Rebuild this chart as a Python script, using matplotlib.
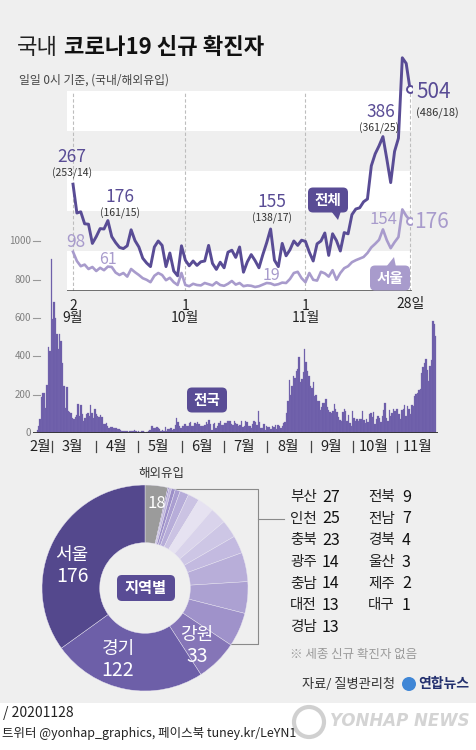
import numpy as np
import matplotlib
matplotlib.use('Agg')
import matplotlib.pyplot as plt
from matplotlib.patches import FancyBboxPatch, Polygon, Rectangle, Circle

plt.rcParams['font.family'] = ['Noto Sans CJK KR', 'DejaVu Sans']

W, H = 476, 750

# 일일 신규 확진자 (0시 기준), 2020-02-18 ~ 2020-11-28
feb = [1, 15, 34, 75, 190, 210, 207, 130, 253, 449, 427, 909]
mar = [595, 686, 600, 516, 438, 518, 483, 367, 248, 131, 242, 114, 110, 107, 76, 74,
       84, 93, 152, 87, 147, 98, 64, 76, 100, 104, 91, 146, 105, 78, 125]
apr = [101, 89, 86, 94, 81, 47, 47, 53, 39, 27, 30, 32, 25, 27, 27, 22, 22, 18, 8, 13,
       9, 11, 8, 6, 10, 10, 10, 14, 9, 4]
may = [9, 6, 13, 8, 3, 2, 4, 12, 18, 34, 35, 27, 26, 29, 27, 19, 13, 15, 13, 32, 12,
       20, 23, 25, 16, 19, 40, 79, 58, 39, 27]
jun = [35, 38, 49, 39, 39, 51, 57, 38, 38, 50, 45, 56, 49, 34, 37, 34, 43, 59, 49, 67,
       48, 17, 46, 51, 28, 39, 51, 62, 42, 43]
jul = [51, 54, 63, 63, 61, 48, 44, 63, 50, 45, 35, 44, 62, 33, 39, 61, 60, 39, 34, 26,
       45, 63, 59, 41, 113, 58, 25, 28, 48, 18, 36]
aug = [31, 30, 23, 34, 33, 43, 20, 43, 36, 28, 34, 54, 56, 103, 166, 279, 197, 246, 297,
       288, 324, 332, 397, 266, 280, 320, 441, 371, 323, 299, 248]
sep = [235, 267, 195, 198, 168, 167, 119, 136, 156, 155, 176, 136, 121, 109, 106, 113,
       153, 126, 110, 82, 70, 61, 110, 125, 114, 61, 95, 50, 38, 113]
octo = [77, 63, 75, 64, 73, 75, 114, 69, 54, 72, 58, 97, 102, 84, 110, 47, 73, 91, 76,
        58, 91, 121, 155, 77, 61, 119, 88, 103, 125, 114, 127]
nov = [124, 97, 75, 118, 125, 145, 89, 143, 126, 100, 146, 143, 191, 205, 208, 223, 230,
       313, 343, 363, 386, 330, 271, 349, 382, 583, 569, 504]
daily = feb + mar + apr + may + jun + jul + aug + sep + octo + nov
month_names = ['2월', '3월', '4월', '5월', '6월', '7월', '8월', '9월', '10월', '11월']
month_len = [len(feb), len(mar), len(apr), len(may), len(jun), len(jul), len(aug), len(sep), len(octo)]

# 9/2 ~ 11/28 전체 / 서울
total = sep[1:] + octo + nov
seoul = [98, 75, 62, 66, 55, 60, 50, 58, 52, 61, 60, 46, 40, 45, 36, 55, 47, 40, 32, 28,
         22, 38, 45, 40, 27, 33, 22, 15, 45,
         15, 12, 18, 15, 14, 20, 17, 14, 22, 15, 13, 18, 25, 16, 20, 12, 14, 13, 10, 12,
         16, 20, 19, 15, 17, 21, 20, 30, 45, 48, 32,
         22, 45, 28, 26, 48, 44, 36, 52, 28, 45, 57, 62, 72, 77, 81, 85, 95, 109, 118, 128,
         154, 127, 107, 122, 135, 204, 188, 176]
line_ticks = [0, 29, 60, 87]
line_tick_labels = ['2\n9월', '1\n10월', '1\n11월', '28일']

# 지역별
left_names = ['부산', '인천', '충북', '광주', '충남', '대전', '경남']
left_vals = [27, 25, 23, 14, 14, 13, 13]
right_names = ['전북', '전남', '경북', '울산', '제주', '대구']
right_vals = [9, 7, 4, 3, 2, 1]
big_names = ['강원', '경기', '서울']
big_vals = [33, 122, 176]
abroad = 18

DARK = '#594c95'
LIGHT = '#a89bcc'
BG = '#efefef'


def box(x0, y0, x1, y1):
    return [x0 / W, 1 - y1 / H, (x1 - x0) / W, (y1 - y0) / H]


fig = plt.figure(figsize=(W / 100, H / 100), dpi=100, facecolor='white')

bg = fig.add_axes([0, 0, 1, 1], zorder=0)
bg.set_xlim(0, W); bg.set_ylim(H, 0); bg.axis('off')
top = fig.add_axes([0, 0, 1, 1], zorder=10)
top.set_xlim(0, W); top.set_ylim(H, 0); top.axis('off'); top.patch.set_alpha(0)

bg.add_patch(Rectangle((0, 0), W, 703, color=BG, lw=0))

# 제목
top.text(17, 48, '국내', fontsize=16, va='center', color='#222')
top.text(64, 48, '코로나19 신규 확진자', fontsize=16, va='center', fontweight='bold', color='#111')
top.text(19, 80, '일일 0시 기준, (국내/해외유입)', fontsize=8.5, va='center', color='#444')

# ---- 막대 (전국)
ax_bar = fig.add_axes(box(33, 230, 438, 433), zorder=2)
ax_bar.patch.set_alpha(0)
x = np.arange(len(daily))
ax_bar.bar(x, daily, width=1.0, color='#6c5ca8', edgecolor='#7a6bb2', lw=0.2)
ax_bar.set_xlim(-2.0, 285.6)
ax_bar.set_ylim(0, 1060)
ax_bar.axis('off')
ax_bar.axhline(0, color='#333', lw=1.3)
ytr = ax_bar.get_yaxis_transform()
for v in range(0, 1001, 200):
    ax_bar.text(-0.005, v, str(v), transform=ytr, ha='right', va='center',
                fontsize=7, color='#808080', clip_on=False)
    if v > 0:
        ax_bar.plot([0, 0.017], [v, v], transform=ytr, color='#999', lw=0.8, clip_on=False)
starts = np.cumsum(month_len)
centers = [3] + [s + 14 for s in starts]
for c, name in zip(centers, month_names):
    ax_bar.text(c, -73, name, ha='center', va='center', fontsize=10.5, color='#222', clip_on=False)
for s in starts:
    ax_bar.plot([s - 0.5, s - 0.5], [-42, -98], color='#444', lw=0.9, clip_on=False)

# ---- 선 (전체/서울)
ax_line = fig.add_axes(box(67, 50, 412, 291), zorder=3)
ax_line.patch.set_alpha(0)
for lo, hi in [(0, 100), (200, 300), (400, 500)]:
    ax_line.axhspan(lo, hi, color='white', lw=0, zorder=0)
for d in line_ticks:
    ax_line.axvline(d, ymin=0, ymax=500 / 602.5, color='#bdbdbd', lw=0.8, ls=(0, (3, 2)), zorder=1)
ax_line.axhline(0, color='#555', lw=1.2, zorder=2)
days = np.arange(len(total))
ax_line.plot(days, seoul, color=LIGHT, lw=1.9, zorder=3, solid_joinstyle='round')
ax_line.plot(days, total, color=DARK, lw=2.1, zorder=4, solid_joinstyle='round')
ax_line.plot(days[-1], seoul[-1], 'o', ms=5, mfc='white', mec=LIGHT, mew=1.4, zorder=5)
ax_line.plot(days[-1], total[-1], 'o', ms=5, mfc='white', mec=DARK, mew=1.4, zorder=5)
ax_line.set_xlim(-1.55, 87.5)
ax_line.set_ylim(0, 602.5)
ax_line.axis('off')
for d, lab in zip(line_ticks, line_tick_labels):
    yy = -32 if '\n' not in lab else -52
    ax_line.text(d, yy, lab, ha='center', va='center', fontsize=10, color='#222',
                 linespacing=0.85, clip_on=False)

# 선 위 숫자
for (tx, ty, s, sub) in [(72, 157, '267', '(253/14)'), (120, 197, '176', '(161/15)'),
                          (272, 202, '155', '(138/17)'), (381, 112, '386', '(361/25)')]:
    top.text(tx, ty, s, ha='center', va='center', fontsize=12.5, color=DARK)
    top.text(tx - 2 if s == '386' else tx, ty + 16, sub, ha='center', va='center', fontsize=7.5, color='#333')
top.text(416, 92, str(total[-1]), ha='left', va='center', fontsize=15, color=DARK)
top.text(416, 113, '(486/18)', ha='left', va='center', fontsize=8, color='#333')
for (tx, ty, s, fs) in [(76, 242, '98', 12.5), (108, 259, '61', 11.5), (271, 276, '19', 11.5),
                        (383, 219, '154', 12)]:
    top.text(tx, ty, s, ha='center', va='center', fontsize=fs, color=LIGHT)
top.text(414, 222, str(seoul[-1]), ha='left', va='center', fontsize=15, color=LIGHT)


def tag(cx, cy, w, h, text, fc, fs=10.5):
    top.add_patch(FancyBboxPatch((cx - w / 2, cy - h / 2), w, h,
                                 boxstyle='round,pad=0,rounding_size=5', fc=fc, ec='none'))
    top.text(cx, cy, text, ha='center', va='center', color='white', fontsize=fs, fontweight='bold')


tag(328, 200, 40, 25, '전체', DARK)
top.add_patch(Polygon([(331, 211), (341, 211), (338, 220)], closed=True, fc=DARK, ec='none'))
tag(390, 278, 40, 25, '서울', LIGHT)
top.add_patch(Polygon([(386, 267), (396, 267), (394, 257)], closed=True, fc=LIGHT, ec='none'))
tag(207, 400, 40, 25, '전국', DARK)

# ---- 도넛 (지역별)
pie_names = ['해외유입'] + right_names[::-1] + left_names[::-1] + big_names
pie_vals = [abroad] + right_vals[::-1] + left_vals[::-1] + big_vals
pie_cols = ['#9b9b9b',
            '#8a7bbd', '#bfb5dd', '#9c8fc8', '#aa9ed1', '#b7add9', '#cbc3e3',
            '#e6e2f1', '#d9d3eb', '#cdc6e5', '#c3bae0', '#b8aed9', '#aca1d2', '#9f92ca',
            '#8575b7', '#6d5fa8', '#54488d']
bg.plot([172, 258, 258, 228], [489, 489, 644, 644], color='#8a8a8a', lw=0.8)
bg.plot([258, 284], [519, 519], color='#8a8a8a', lw=0.8)

ax_pie = fig.add_axes(box(42, 485, 248, 691), zorder=2)
ax_pie.pie(pie_vals, colors=pie_cols, startangle=90, counterclock=False, radius=1,
           wedgeprops=dict(width=0.56, edgecolor='#e9e6f2', linewidth=0.3))
ax_pie.set_xlim(-1, 1); ax_pie.set_ylim(-1, 1)
ax_pie.axis('off')

top.text(161, 473, pie_names[0], ha='center', va='center', fontsize=9, color='#333')
top.text(157, 504, str(abroad), ha='center', va='center', fontsize=12, color='white')
for (tx, ty, name, v) in [(72, 555, '서울', 176), (118, 649, '경기', 122), (197, 635, '강원', 33)]:
    top.text(tx, ty, name, ha='center', va='center', fontsize=13, color='white')
    top.text(tx, ty + 21, str(v), ha='center', va='center', fontsize=14, color='white')
tag(146, 588, 58, 26, '지역별', DARK, fs=11)

for i, (n, v) in enumerate(zip(left_names, left_vals)):
    top.text(290, 497 + 21.7 * i, n, ha='left', va='center', fontsize=10.5, color='#222')
    top.text(322, 497 + 21.7 * i, str(v), ha='left', va='center', fontsize=11.5, color='#111')
for i, (n, v) in enumerate(zip(right_names, right_vals)):
    top.text(368, 497 + 21.7 * i, n, ha='left', va='center', fontsize=10.5, color='#222')
    top.text(402, 497 + 21.7 * i, str(v), ha='left', va='center', fontsize=11.5, color='#111')
top.text(290, 654, '※ 세종 신규 확진자 없음', ha='left', va='center', fontsize=9, color='#9a9a9a')

# 출처
top.text(302, 684, '자료/ 질병관리청', ha='left', va='center', fontsize=9.5, color='#333')
top.add_patch(Circle((409, 684), 7, fc='#3f86d6', ec='none'))
top.text(418, 684, '연합뉴스', ha='left', va='center', fontsize=10, fontweight='bold', color='#23306e')

# 하단
top.text(3, 713, '/ 20201128', ha='left', va='center', fontsize=10, color='#222')
top.text(2, 734, '트위터 @yonhap_graphics, 페이스북 tuney.kr/LeYN1', ha='left', va='center',
         fontsize=9, color='#222')
top.add_patch(Circle((309, 722), 15, fc='none', ec='#d0d0d0', lw=3))
top.text(330, 721, 'YONHAP NEWS', ha='left', va='center', fontsize=12, fontweight='bold',
         fontstyle='italic', color='#d4d4d4', family='DejaVu Sans')

fig.savefig('out.png', dpi=100, facecolor=fig.get_facecolor())
